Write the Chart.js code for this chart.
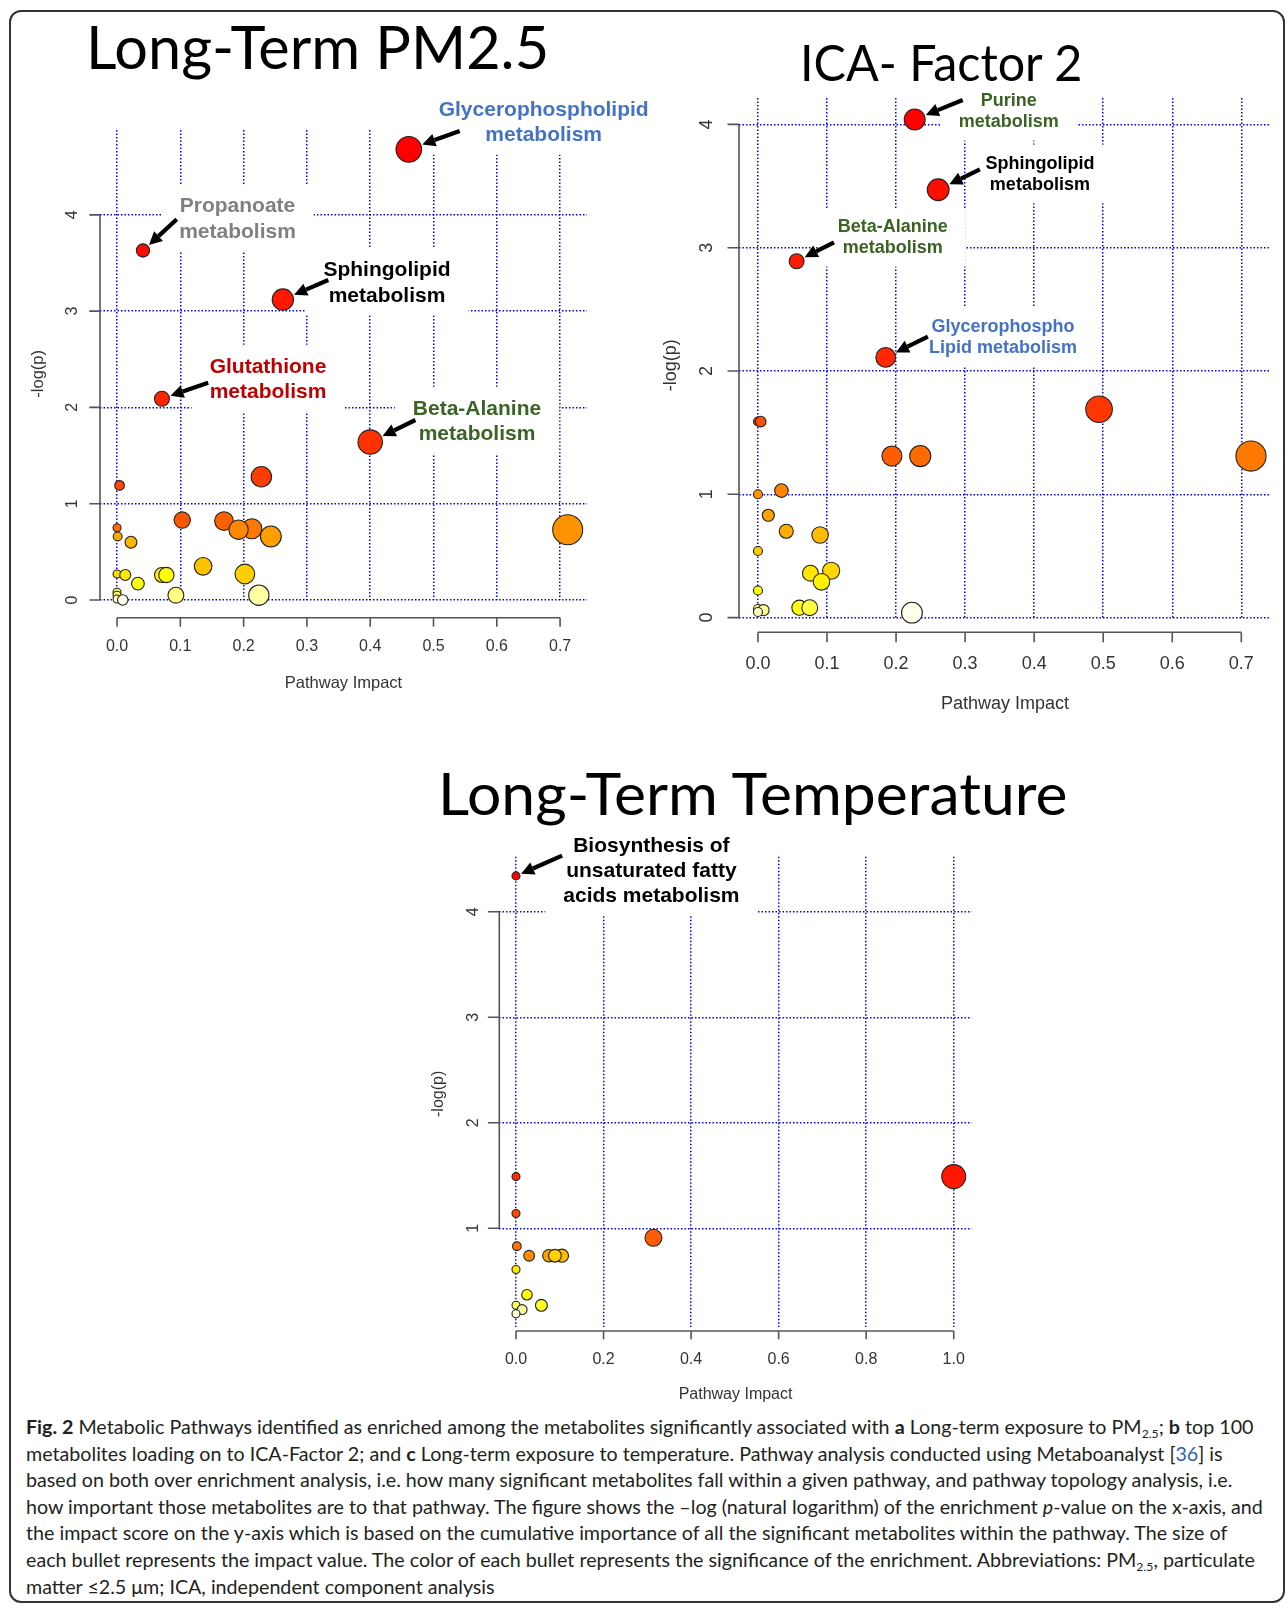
<!DOCTYPE html>
<html>
<head>
<meta charset="utf-8">
<title>Metabolic pathway analysis</title>
<script src="https://cdn.jsdelivr.net/npm/chart.js@4.4.1/dist/chart.umd.min.js"></script>
<style>
  html, body { margin: 0; padding: 0; background: #fff; }
  #page { position: relative; width: 1287px; height: 1606px; overflow: hidden; background: #fff; font-family: 'Liberation Sans', Arial, sans-serif; }
  #frame { position: absolute; left: 9px; top: 10px; width: 1276px; height: 1593px; box-sizing: border-box; border: 2px solid #333; border-radius: 12px; }
  canvas { position: absolute; }
  .title { position: absolute; font-family: Lato, 'Open Sans', sans-serif; line-height: 1; white-space: nowrap; color: #000; transform-origin: 0 0; }
  .note { position: absolute; font-weight: bold; text-align: center; white-space: nowrap; transform: translateX(-50%); }
  #caption { position: absolute; left: 26px; top: 1414px; font-family: Lato, sans-serif; font-size: 19px; color: #231f20; }
  #caption div { white-space: nowrap; line-height: 26.6px; height: 26.6px; }
  #caption sub { font-size: 0.62em; vertical-align: -0.3em; line-height: 0; }
  #caption a { color: #2f5fb3; text-decoration: none; }
</style>
</head>
<body>
<div id="page">
  <div id="frame"></div>
  <div id="caption">
    <div id="capFirst"><b>Fig. 2</b> Metabolic Pathways identified as enriched among the metabolites significantly associated with <b>a</b> Long-term exposure to PM<sub>2.5</sub>; <b>b</b> top 100</div>
    <div>metabolites loading on to ICA-Factor 2; and <b>c</b> Long-term exposure to temperature. Pathway analysis conducted using Metaboanalyst [<a>36</a>] is</div>
    <div>based on both over enrichment analysis, i.e. how many significant metabolites fall within a given pathway, and pathway topology analysis, i.e.</div>
    <div>how important those metabolites are to that pathway. The figure shows the –log (natural logarithm) of the enrichment <i>p</i>-value on the x-axis, and</div>
    <div>the impact score on the y-axis which is based on the cumulative importance of all the significant metabolites within the pathway. The size of</div>
    <div>each bullet represents the impact value. The color of each bullet represents the significance of the enrichment. Abbreviations: PM<sub>2.5</sub>, particulate</div>
    <div>matter ≤2.5 μm; ICA, independent component analysis</div>
  </div>
</div>
<script>
// a) Long-Term PM2.5
const impactA = [0.461, 0.041, 0.262, 0.071, 0.400, 0.228, 0.004, 0.103, 0.169, 0.000, 0.213, 0.192, 0.712, 0.243, 0.001,
                 0.022, 0.136, 0.202, 0.000, 0.013, 0.071, 0.078, 0.033, 0.000, 0.000, 0.093, 0.224, 0.000, 0.009];
const logpA   = [4.68, 3.63, 3.12, 2.09, 1.64, 1.28, 1.19, 0.83, 0.82, 0.75, 0.74, 0.73, 0.73, 0.66, 0.66,
                 0.60, 0.35, 0.27, 0.27, 0.26, 0.26, 0.26, 0.17, 0.08, 0.05, 0.05, 0.05, 0.01, 0.00];
const xTicksA = [0, 0.1, 0.2, 0.3, 0.4, 0.5, 0.6, 0.7];
const yTicksA = [0, 1, 2, 3, 4];
const notesA  = [['Glycerophospholipid', 'metabolism'], ['Propanoate', 'metabolism'], ['Sphingolipid', 'metabolism'],
                 ['Glutathione', 'metabolism'], ['Beta-Alanine', 'metabolism']];

// b) ICA- Factor 2
const impactB = [0.227, 0.261, 0.056, 0.185, 0.494, 0.000, 0.004, 0.194, 0.235, 0.714, 0.034, 0.000, 0.015,
                 0.041, 0.090, 0.000, 0.106, 0.076, 0.092, 0.000, 0.060, 0.075, 0.000, 0.008, 0.000, 0.223];
const logpB   = [4.04, 3.47, 2.89, 2.11, 1.69, 1.59, 1.59, 1.31, 1.31, 1.31, 1.03, 1.00, 0.83,
                 0.70, 0.67, 0.54, 0.38, 0.36, 0.29, 0.22, 0.08, 0.08, 0.07, 0.06, 0.045, 0.04];
const xTicksB = [0, 0.1, 0.2, 0.3, 0.4, 0.5, 0.6, 0.7];
const yTicksB = [0, 1, 2, 3, 4];
const notesB  = [['Purine', 'metabolism'], ['Sphingolipid', 'metabolism'], ['Beta-Alanine', 'metabolism'],
                 ['Glycerophospho', 'Lipid metabolism']];

// c) Long-Term Temperature
const impactC = [0.000, 1.000, 0.000, 0.000, 0.314, 0.002, 0.030, 0.075, 0.105, 0.089, 0.000, 0.025, 0.058, 0.000, 0.014, 0.000];
const logpC   = [4.34, 1.49, 1.49, 1.14, 0.91, 0.83, 0.74, 0.74, 0.74, 0.74, 0.61, 0.37, 0.27, 0.27, 0.23, 0.19];
const xTicksC = [0, 0.2, 0.4, 0.6, 0.8, 1.0];
const yTicksC = [1, 2, 3, 4];
const notesC  = [['Biosynthesis of', 'unsaturated fatty', 'acids metabolism']];

const titles = ['Long-Term PM2.5', 'ICA- Factor 2', 'Long-Term Temperature'];

const BLUE = '#4472c4', GREEN = '#3b6324', RED = '#c00000', GREY = '#808080', BLACK = '#000';

// panel layout (page pixels)
const panels = [
  {
    impact: impactA, logp: logpA, xTicks: xTicksA, yTicks: yTicksA, notes: notesA, title: titles[0],
    titleBox: {x: 86, base: 70, cap: 43.3, w: 463},
    box: {x: 0, y: 70, w: 680, h: 650},
    area: {l: 100, t: 130, r: 587, b: 600},
    xRange: [-0.0269, 0.7425], yRange: [0, 4.881],
    radius: v => 4 + 13 * Math.sqrt(v),
    axis: {gap: 17.7, xTick: 9, yTick: 10.7, xLab: 29, yLab: 27.5, xTitle: 65.6, yTitle: 62, tickFont: 16, titleFont: 16.5},
    noteFont: 21, noteLine: 25.5,
    layout: [
      {point: 0, cx: 543.7, cy: 108.5, color: BLUE, tail: [459.7, 131]},
      {point: 1, cx: 237.5, cy: 204.8, color: GREY, tail: [176.8, 219.3]},
      {point: 2, cx: 387, cy: 269, color: BLACK, tail: [328.3, 280]},
      {point: 3, cx: 268, cy: 365.5, color: RED, tail: [208.2, 382.7]},
      {point: 4, cx: 477, cy: 407.5, color: GREEN, tail: [415.4, 420]}
    ]
  },
  {
    impact: impactB, logp: logpB, xTicks: xTicksB, yTicks: yTicksB, notes: notesB, title: titles[1],
    titleBox: {x: 800, base: 82.3, cap: 35.6, w: 282},
    box: {x: 650, y: 70, w: 637, h: 670},
    area: {l: 739, t: 98, r: 1272, b: 617.6},
    xRange: [-0.02746, 0.74277], yRange: [0, 4.214],
    radius: v => 4.5 + 12.5 * Math.sqrt(v),
    axis: {gap: 14.7, xTick: 10, yTick: 11.5, xLab: 31.7, yLab: 31.5, xTitle: 71.7, yTitle: 68.4, tickFont: 18, titleFont: 18},
    noteFont: 18, noteLine: 21.3,
    layout: [
      {point: 0, cx: 1008.7, cy: 100.7, color: GREEN, tail: [962.7, 100]},
      {point: 1, cx: 1039.9, cy: 163.3, color: BLACK, tail: [979.9, 169.3]},
      {point: 2, cx: 892.7, cy: 226.7, color: GREEN, tail: [834, 242.3]},
      {point: 3, cx: 1003, cy: 326.7, color: BLUE, tail: [927.9, 336.7]}
    ]
  },
  {
    impact: impactC, logp: logpC, xTicks: xTicksC, yTicks: yTicksC, notes: notesC, title: titles[2],
    titleBox: {x: 438, base: 815, cap: 42, w: 630},
    box: {x: 400, y: 820, w: 600, h: 600},
    area: {l: 499.3, t: 856.7, r: 971.8, b: 1327},
    xRange: [-0.03815, 1.0413], yRange: [0.0645, 4.522],
    radius: v => 4 + 8 * Math.sqrt(v),
    axis: {gap: 4, xTick: 8.3, yTick: 11.4, xLab: 28.3, yLab: 25.7, xTitle: 63.3, yTitle: 60.3, tickFont: 16, titleFont: 16},
    noteFont: 21, noteLine: 25.3,
    layout: [
      {point: 0, cx: 651.4, cy: 844.3, color: BLACK, tail: [562.1, 855.7]}
    ]
  }
];

// R heat.colors(n)
function hsv(h, s, v) {
  const i = Math.floor(h * 6 + 1e-9), f = h * 6 - i;
  const p = v * (1 - s), q = v * (1 - f * s), t = v * (1 - (1 - f) * s);
  const rgb = [[v, t, p], [q, v, p], [p, v, t], [p, q, v], [t, p, v], [v, p, q]][i % 6];
  return 'rgb(' + rgb.map(c => Math.round(c * 255)).join(',') + ')';
}
function heatColors(n) {
  const j = Math.floor(n / 4), i = n - j, out = [];
  for (let k = 0; k < i; k++) out.push(hsv(i > 1 ? k / (i - 1) / 6 : 0, 1, 1));
  for (let k = 0; k < j; k++) {
    const s = j > 1 ? (1 - 1 / (2 * j)) - k * (1 - 1 / j) / (j - 1) : 0.5;
    out.push(hsv(1 / 6, s, 1));
  }
  return out;
}

const page = document.getElementById('page');
const FONT = '"Liberation Sans", Arial, sans-serif';

function drawArrow(ctx, tx, ty, hx, hy) {
  const a = Math.atan2(hy - ty, hx - tx), L = 13, W = 6.5;
  const bx = hx - L * Math.cos(a), by = hy - L * Math.sin(a);
  ctx.lineWidth = 4.2;
  ctx.beginPath(); ctx.moveTo(tx, ty); ctx.lineTo(bx, by); ctx.stroke();
  ctx.beginPath();
  ctx.moveTo(hx, hy);
  ctx.lineTo(bx + W * Math.sin(a), by - W * Math.cos(a));
  ctx.lineTo(bx - W * Math.sin(a), by + W * Math.cos(a));
  ctx.closePath(); ctx.fill();
}

function rStyle(p, noteEls) {
  return {
    id: 'rStyle',
    beforeDatasetsDraw(chart) {
      // white boxes behind the labels hide the grid
      const ctx = chart.ctx;
      ctx.save();
      ctx.fillStyle = '#fff';
      noteEls.forEach(el => {
        const r = el.getBoundingClientRect();
        ctx.fillRect(r.left - p.box.x - 18, r.top - p.box.y - 8, r.width + 36, r.height + 16);
      });
      ctx.restore();
    },
    afterDatasetsDraw(chart) {
      const {ctx, scales: {x, y}} = chart;
      ctx.save();
      ctx.fillStyle = '#000'; ctx.strokeStyle = '#000';
      p.layout.forEach(n => {
        const px = x.getPixelForValue(p.impact[n.point]), py = y.getPixelForValue(p.logp[n.point]);
        const tx = n.tail[0] - p.box.x, ty = n.tail[1] - p.box.y;
        const d = Math.hypot(tx - px, ty - py), rr = p.radius(p.impact[n.point]) + 1.5;
        drawArrow(ctx, tx, ty, px + (tx - px) / d * rr, py + (ty - py) / d * rr);
      });
      ctx.restore();
    },
    afterDraw(chart) {
      const {ctx, chartArea: a, scales: {x, y}} = chart;
      const o = p.axis;
      ctx.save();
      ctx.strokeStyle = '#555'; ctx.lineWidth = 1.6; ctx.fillStyle = '#333';
      ctx.textAlign = 'center'; ctx.textBaseline = 'middle';
      ctx.font = o.tickFont + 'px ' + FONT;
      // bottom axis
      const sy = a.bottom + o.gap;
      const xs = p.xTicks.map(v => x.getPixelForValue(v));
      ctx.beginPath();
      ctx.moveTo(xs[0], sy); ctx.lineTo(xs[xs.length - 1], sy);
      xs.forEach(px => { ctx.moveTo(px, sy); ctx.lineTo(px, sy + o.xTick); });
      ctx.stroke();
      p.xTicks.forEach((v, i) => ctx.fillText(v.toFixed(1), xs[i], sy + o.xLab));
      // left axis
      const sx = a.left;
      const ys = p.yTicks.map(v => y.getPixelForValue(v));
      ctx.beginPath();
      ctx.moveTo(sx, ys[0]); ctx.lineTo(sx, ys[ys.length - 1]);
      ys.forEach(py => { ctx.moveTo(sx, py); ctx.lineTo(sx - o.yTick, py); });
      ctx.stroke();
      p.yTicks.forEach((v, i) => {
        ctx.save(); ctx.translate(sx - o.yLab, ys[i]); ctx.rotate(-Math.PI / 2);
        ctx.fillText(String(v), 0, 0); ctx.restore();
      });
      // axis titles
      ctx.font = o.titleFont + 'px ' + FONT;
      ctx.fillText('Pathway Impact', (a.left + a.right) / 2, sy + o.xTitle);
      ctx.save(); ctx.translate(sx - o.yTitle, (a.top + sy) / 2); ctx.rotate(-Math.PI / 2);
      ctx.fillText('-log(p)', 0, 0); ctx.restore();
      ctx.restore();
    }
  };
}

function build() {
  // caption: fit the first line to its width in the figure
  const cap = document.getElementById('caption');
  const w1 = document.getElementById('capFirst').scrollWidth;
  cap.style.fontSize = (19 * 1238 / w1).toFixed(2) + 'px';

  panels.forEach(p => {
    const canvas = document.createElement('canvas');
    canvas.width = p.box.w; canvas.height = p.box.h;
    canvas.style.left = p.box.x + 'px'; canvas.style.top = p.box.y + 'px';
    canvas.style.width = p.box.w + 'px'; canvas.style.height = p.box.h + 'px';
    page.appendChild(canvas);

    // chart title (Calibri-like), scaled to its width in the figure
    const t = document.createElement('div');
    t.className = 'title';
    const size = p.titleBox.cap / 0.7165;
    t.style.fontSize = size + 'px';
    t.style.left = p.titleBox.x + 'px';
    t.style.top = (p.titleBox.base - 0.887 * size) + 'px';
    t.textContent = p.title;
    page.appendChild(t);
    t.style.transform = 'scaleX(' + (p.titleBox.w / t.offsetWidth) + ')';

    // pathway labels
    const noteEls = p.layout.map((n, k) => {
      const el = document.createElement('div');
      el.className = 'note';
      el.style.left = n.cx + 'px';
      el.style.top = (n.cy - p.noteLine / 2) + 'px';
      el.style.fontSize = p.noteFont + 'px';
      el.style.lineHeight = p.noteLine + 'px';
      el.style.color = n.color;
      el.innerHTML = p.notes[k].join('<br>');
      page.appendChild(el);
      return el;
    });

    // colours by rank of -log(p), as MetaboAnalyst does
    const pal = heatColors(p.logp.length);
    const order = p.logp.map((v, k) => k).sort((a, b) => p.logp[b] - p.logp[a]);
    const colors = [];
    order.forEach((k, r) => { colors[k] = pal[r]; });

    const points = p.impact.map((v, k) => ({x: v, y: p.logp[k], r: p.radius(v)}));

    new Chart(canvas, {
      type: 'bubble',
      data: {
        datasets: [{
          data: points,
          backgroundColor: colors,
          borderColor: '#222',
          borderWidth: 1.1,
          hoverRadius: 0,
          clip: false
        }]
      },
      options: {
        responsive: false,
        animation: false,
        events: [],
        layout: {
          padding: {
            left: p.area.l - p.box.x,
            top: p.area.t - p.box.y,
            right: p.box.x + p.box.w - p.area.r,
            bottom: p.box.y + p.box.h - p.area.b
          }
        },
        plugins: { legend: { display: false }, tooltip: { enabled: false } },
        scales: {
          x: {
            type: 'linear', min: p.xRange[0], max: p.xRange[1],
            afterBuildTicks: s => { s.ticks = p.xTicks.map(v => ({value: v})); },
            afterFit: s => { s.height = 0; },
            ticks: { display: false },
            grid: { color: '#0000ff', lineWidth: 1.5, drawTicks: false },
            border: { display: false, dash: [1.5, 2] }
          },
          y: {
            type: 'linear', min: p.yRange[0], max: p.yRange[1],
            afterBuildTicks: s => { s.ticks = p.yTicks.map(v => ({value: v})); },
            afterFit: s => { s.width = 0; },
            ticks: { display: false },
            grid: { color: '#0000ff', lineWidth: 1.5, drawTicks: false },
            border: { display: false, dash: [1.5, 2] }
          }
        }
      },
      plugins: [rStyle(p, noteEls)]
    });
  });
}

document.fonts.ready.then(build);
</script>
</body>
</html>
